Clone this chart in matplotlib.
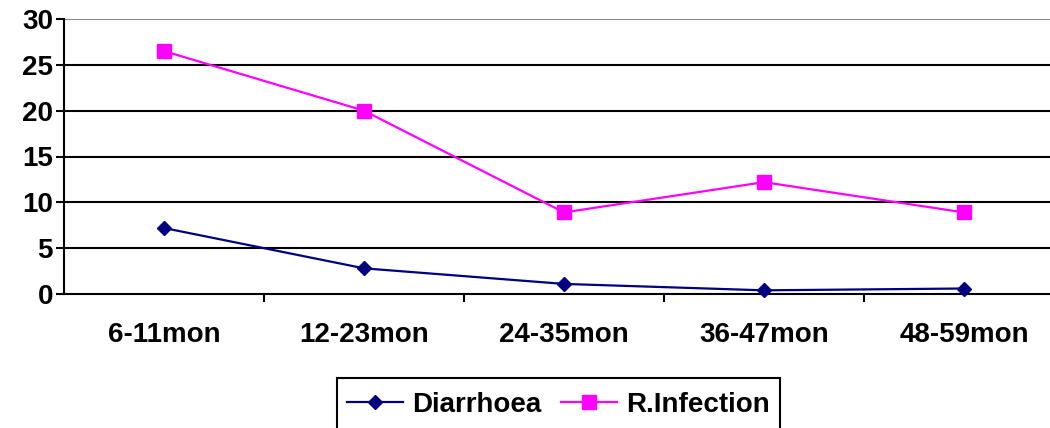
import matplotlib.pyplot as plt
from matplotlib.patches import Rectangle
import numpy as np

ages = ['6-11mon', '12-23mon', '24-35mon', '36-47mon', '48-59mon']
diarrhoea = [7.2, 2.8, 1.1, 0.4, 0.6]
r_infection = [26.5, 20.0, 8.9, 12.2, 8.9]

plt.rcParams['font.family'] = ['Liberation Sans', 'DejaVu Sans']
plt.rcParams['font.weight'] = 'bold'

W, H = 1050, 428
fig = plt.figure(figsize=(W / 100, H / 100), dpi=100)
ax = fig.add_axes([64 / W, 1 - 294 / H, 1000 / W, 275 / H])

x = np.arange(len(ages))
ax.plot(x, diarrhoea, color='#000080', lw=1.6, marker='D', ms=7,
        label='Diarrhoea', zorder=3, clip_on=False)
ax.plot(x, r_infection, color='#ff00ff', lw=1.6, marker='s', ms=10,
        label='R.Infection', zorder=3, clip_on=False)

ax.set_xlim(-0.5, len(ages) - 0.5)
ax.set_ylim(0, 30)
ax.set_yticks(range(0, 31, 5))
for v in range(5, 30, 5):
    ax.axhline(v, color='black', lw=1.5, zorder=1)
ax.axhline(30, color='#888888', lw=1.5, zorder=1)

ax.set_xticks(x)
ax.set_xticklabels(ages, fontsize=20, fontweight='bold')
ax.set_xticks(x[:-1] + 0.5, minor=True)
ax.tick_params(axis='x', which='major', length=0, pad=20)
ax.tick_params(axis='x', which='minor', length=6, width=1.5, direction='out')
ax.tick_params(axis='y', length=6, width=1.5, pad=2, labelsize=20)
for lab in ax.get_yticklabels():
    lab.set_fontweight('bold')

for side in ['top', 'right']:
    ax.spines[side].set_visible(False)
ax.spines['left'].set_linewidth(1.5)
ax.spines['bottom'].set_linewidth(1.5)

# legend box runs off the bottom of the figure
fig.patches.append(Rectangle((337 / W, -0.1), (780 - 337) / W, 0.1 + 1 - 378 / H,
                             transform=fig.transFigure, fill=False,
                             edgecolor='black', lw=1.5))
leg = fig.legend(loc='center left', bbox_to_anchor=(347 / W, 1 - 405 / H),
                 ncol=2, fontsize=20, frameon=False, handlelength=2.0,
                 handletextpad=0.35, columnspacing=0.7, borderpad=0,
                 borderaxespad=0)
for t in leg.get_texts():
    t.set_fontweight('bold')

fig.savefig('out.png', dpi=100)
